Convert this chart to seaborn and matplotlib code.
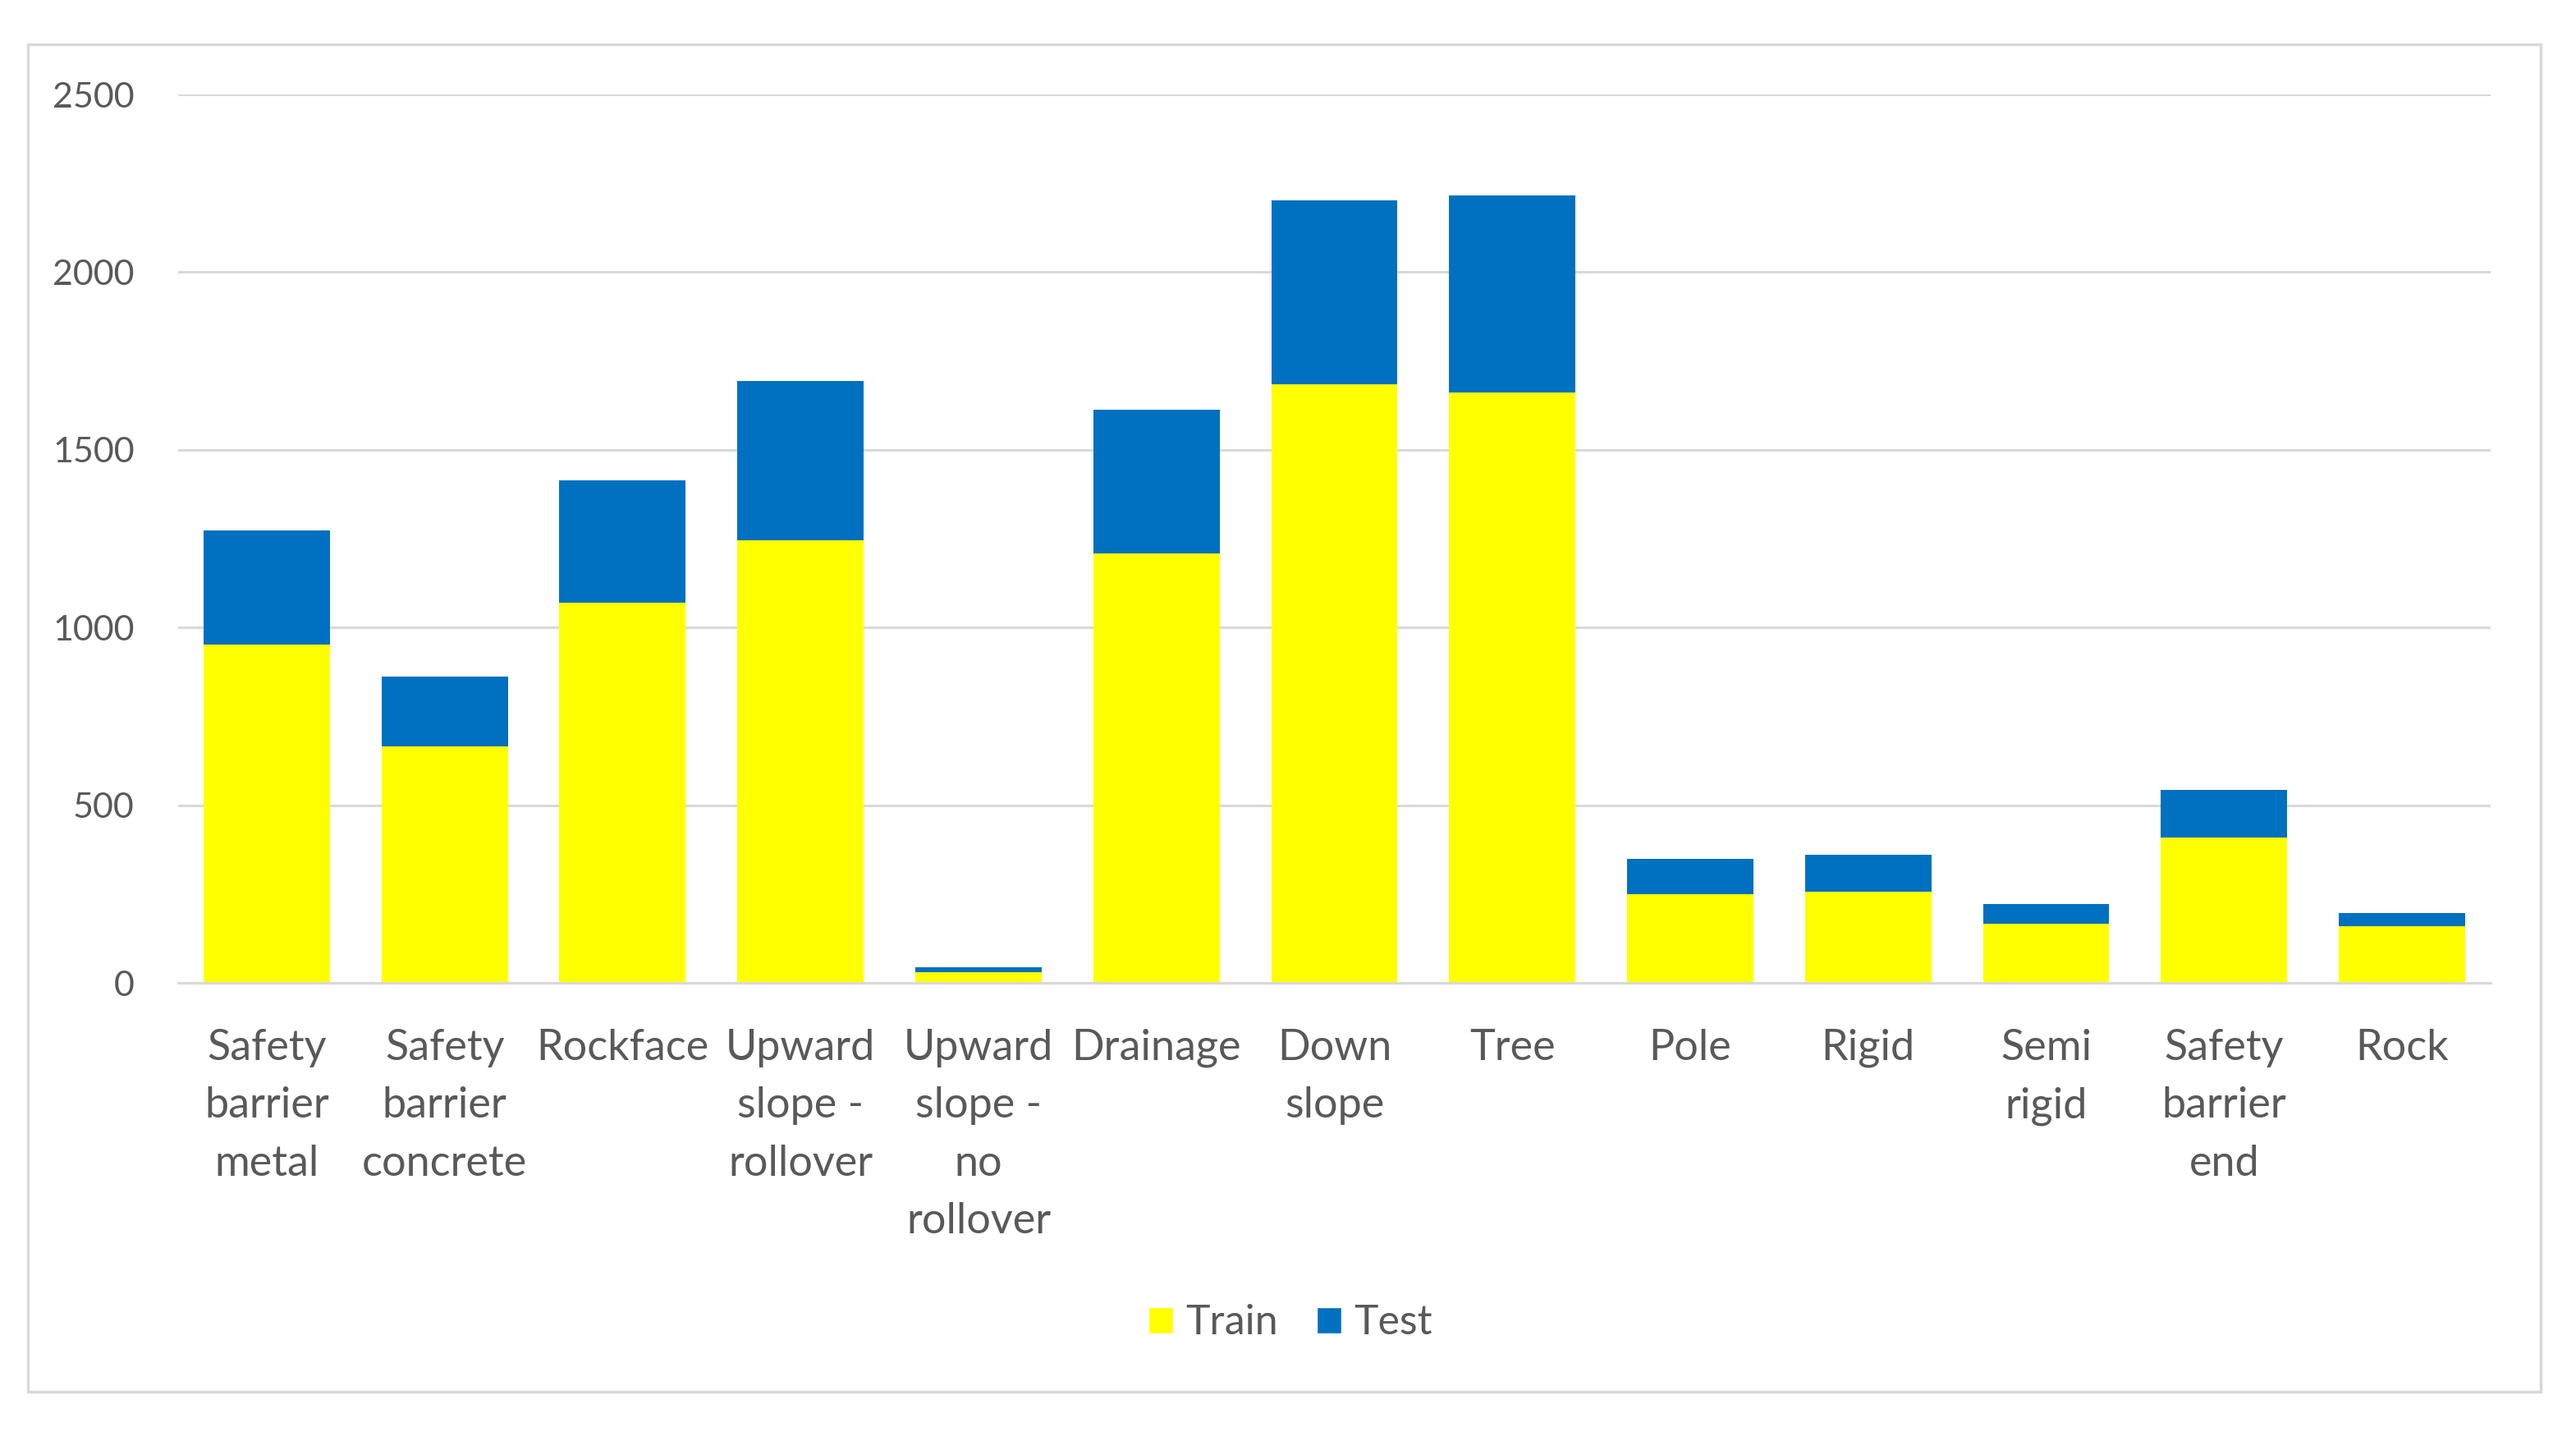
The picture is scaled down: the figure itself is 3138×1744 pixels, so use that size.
import pandas as pd
import numpy as np
import matplotlib.pyplot as plt
import seaborn as sns
from matplotlib.patches import Patch, Rectangle

# 类别（换行与原图一致）
categories = ["Safety\nbarrier\nmetal", "Safety\nbarrier\nconcrete", "Rockface",
              "Upward\nslope -\nrollover", "Upward\nslope -\nno\nrollover", "Drainage",
              "Down\nslope", "Tree", "Pole", "Rigid", "Semi\nrigid",
              "Safety\nbarrier\nend", "Rock"]
train = [953, 666, 1069, 1245, 31, 1209, 1684, 1661, 250, 257, 166, 409, 160]
test = [321, 195, 345, 450, 13, 403, 519, 555, 98, 103, 55, 134, 36]
yticks = [0, 500, 1000, 1500, 2000, 2500]

sns.set_theme(style="white")
plt.rcParams['font.family'] = ['Lato', 'DejaVu Sans']

df = pd.DataFrame({"cat": categories, "Train": train, "Test": test})

fig = plt.figure(figsize=(31.38, 17.44), dpi=100)
ax = fig.add_axes([0.069, 0.3136, 0.898, 0.6204])

text_col = '#595959'
grid_col = '#D9D9D9'

# 堆叠柱：先画 Train，再把 Test 叠上去
sns.barplot(data=df, x="cat", y="Train", color='#FFFF00', width=0.71,
            saturation=1, ax=ax, linewidth=0)
sns.barplot(data=df, x="cat", y="Test", color='#0070C0', width=0.71,
            saturation=1, ax=ax, linewidth=0, bottom=df["Train"])

ax.set_ylim(0, 2500)
ax.set_xlim(-0.5, len(categories) - 0.5)
ax.set_yticks(yticks)
ax.set_yticklabels([str(v) for v in yticks], fontsize=31, color=text_col)
ax.tick_params(axis='y', length=0, pad=38)
ax.tick_params(axis='x', length=0, pad=40, labelsize=37.5, labelcolor=text_col)
for lab in ax.get_xticklabels():
    lab.set_linespacing(1.62)
ax.set_xlabel("")
ax.set_ylabel("")

ax.grid(axis='y', color=grid_col, linewidth=2.2)
ax.set_axisbelow(True)
for s in ['top', 'right', 'left']:
    ax.spines[s].set_visible(False)
ax.spines['bottom'].set_color(grid_col)
ax.spines['bottom'].set_linewidth(2.2)

# 图例
legend_elements = [Patch(facecolor='#FFFF00', label='Train'),
                   Patch(facecolor='#0070C0', label='Test')]
fig.legend(handles=legend_elements, loc='center', bbox_to_anchor=(0.501, 0.076),
           ncol=2, frameon=False, fontsize=36, labelcolor=text_col,
           handlelength=0.6, handleheight=0.6, handletextpad=0.3, columnspacing=0.95)

# 外边框
fig.patches.append(Rectangle((34 / 3138, 1 - 1695 / 1744), (3095 - 34) / 3138,
                             (1695 - 54) / 1744, transform=fig.transFigure,
                             fill=False, edgecolor=grid_col, linewidth=2.5))

plt.savefig("out.png", dpi=100)
plt.close()
